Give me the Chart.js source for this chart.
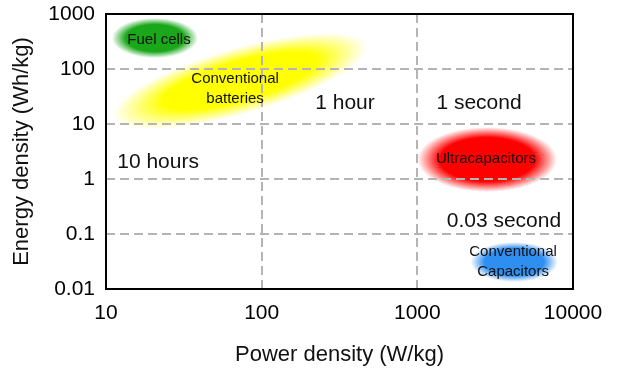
<!DOCTYPE html>
<html>
<head>
<meta charset="utf-8">
<script src="https://cdn.jsdelivr.net/npm/chart.js@4/dist/chart.umd.min.js"></script>
<style>
  html, body { margin: 0; padding: 0; background: #fff; }
  #wrap { width: 625px; height: 384px; }
</style>
</head>
<body>
<div id="wrap"><canvas id="ragone" width="625" height="384"></canvas></div>
<script>
// axis decades
const powerTicks = [10, 100, 1000, 10000];
const energyTicks = [0.01, 0.1, 1, 10, 100, 1000];

// technology regions (W/kg, Wh/kg); tilted ones run corner to corner along their long axis
const regionNames = [['Fuel cells'], ['Conventional', 'batteries'], ['Ultracapacitors'], ['Conventional', 'Capacitors']];
const regionPowerLo = [10.9, 11.1, 1000, 2200];
const regionPowerHi = [39, 475, 7900, 8000];
const regionEnergyLo = [158, 13.4, 0.58, 0.0134];
const regionEnergyHi = [846, 273, 8.8, 0.0716];
const regionTilted = [false, true, false, false];
const regionLabelPower = [21.9, 67.5, 2760, 4120];
const regionLabelEnergy = [337, 43.3, 2.31, 0.031];
const regionColors = ['#1aa81a', '#ffff00', '#ff0000', '#2f8ff0'];

// discharge-time annotations
const timeLabels = ['10 hours', '1 hour', '1 second', '0.03 second'];
const timePower = [21.6, 343, 2490, 3600];
const timeEnergy = [2.04, 24.1, 24.1, 0.172];

const FONT = '"Liberation Sans", Arial, sans-serif';

function fadeColor(hex, a) {
  const n = parseInt(hex.slice(1), 16);
  return `rgba(${n >> 16},${(n >> 8) & 255},${n & 255},${a})`;
}

const regionsPlugin = {
  id: 'regions',
  beforeDraw(chart) {
    const { ctx, chartArea: ca, scales: { x, y } } = chart;
    ctx.save();
    ctx.beginPath();
    ctx.rect(ca.left, ca.top, ca.right - ca.left, ca.bottom - ca.top);
    ctx.clip();
    regionNames.forEach((_, i) => {
      const x0 = x.getPixelForValue(regionPowerLo[i]), x1 = x.getPixelForValue(regionPowerHi[i]);
      const y0 = y.getPixelForValue(regionEnergyLo[i]), y1 = y.getPixelForValue(regionEnergyHi[i]);
      let cx = (x0 + x1) / 2, cy = (y0 + y1) / 2, rx, ry, ang = 0;
      if (regionTilted[i]) {
        rx = Math.hypot(x1 - x0, y1 - y0) / 2;
        ry = rx * 0.25;
        ang = Math.atan2(y1 - y0, x1 - x0);
      } else {
        rx = Math.abs(x1 - x0) / 2;
        ry = Math.abs(y1 - y0) / 2;
      }
      ctx.save();
      ctx.translate(cx, cy);
      ctx.rotate(ang);
      ctx.scale(rx, ry);
      const g = ctx.createRadialGradient(0, 0, 0, 0, 0, 1);
      g.addColorStop(0, regionColors[i]);
      g.addColorStop(regionTilted[i] ? 0.6 : 0.68, regionColors[i]);
      g.addColorStop(1, fadeColor(regionColors[i], 0));
      ctx.fillStyle = g;
      ctx.beginPath();
      ctx.arc(0, 0, 1, 0, Math.PI * 2);
      ctx.fill();
      ctx.restore();
    });
    ctx.restore();
  },
  beforeDatasetsDraw(chart) {
    // dashed decade grid, taken from the scales' own ticks
    const { ctx, chartArea: ca, scales: { x, y } } = chart;
    ctx.save();
    ctx.strokeStyle = '#b4b4b4';
    ctx.lineWidth = 2;
    ctx.setLineDash([9, 5]);
    x.ticks.forEach((t) => {
      const px = Math.round(x.getPixelForValue(t.value));
      if (px <= ca.left + 1 || px >= ca.right - 1) return;
      ctx.beginPath(); ctx.moveTo(px, ca.bottom); ctx.lineTo(px, ca.top); ctx.stroke();
    });
    y.ticks.forEach((t) => {
      const py = Math.round(y.getPixelForValue(t.value));
      if (py <= ca.top + 1 || py >= ca.bottom - 1) return;
      ctx.beginPath(); ctx.moveTo(ca.left, py); ctx.lineTo(ca.right, py); ctx.stroke();
    });
    ctx.restore();
  },
  afterDatasetsDraw(chart) {
    const { ctx, chartArea: ca, scales: { x, y } } = chart;
    ctx.save();
    ctx.textAlign = 'center';
    ctx.textBaseline = 'middle';
    ctx.fillStyle = '#111';
    ctx.font = `15px ${FONT}`;
    regionNames.forEach((lines, i) => {
      const px = x.getPixelForValue(regionLabelPower[i]);
      const py = y.getPixelForValue(regionLabelEnergy[i]);
      lines.forEach((t, k) => ctx.fillText(t, px, py + (k - (lines.length - 1) / 2) * 20));
    });
    ctx.font = `21px ${FONT}`;
    timeLabels.forEach((t, i) => ctx.fillText(t, x.getPixelForValue(timePower[i]), y.getPixelForValue(timeEnergy[i])));
    // plot frame
    ctx.strokeStyle = '#000';
    ctx.lineWidth = 2;
    ctx.strokeRect(ca.left, ca.top, ca.right - ca.left, ca.bottom - ca.top);
    ctx.restore();
  }
};

const hiddenGrid = (len) => ({ display: true, drawOnChartArea: false, drawTicks: true, tickLength: len, color: 'rgba(0,0,0,0)', tickColor: 'rgba(0,0,0,0)' });

new Chart(document.getElementById('ragone'), {
  type: 'scatter',
  data: {
    datasets: [{
      label: 'regions',
      data: regionLabelPower.map((p, i) => ({ x: p, y: regionLabelEnergy[i] })),
      pointRadius: 0,
      pointHoverRadius: 0
    }]
  },
  options: {
    responsive: false,
    animation: false,
    layout: { padding: { left: 0, top: 14, right: 52, bottom: 0 } },
    plugins: { legend: { display: false }, tooltip: { enabled: false } },
    scales: {
      x: {
        type: 'logarithmic',
        min: 10, max: 10000,
        afterBuildTicks: (s) => { s.ticks = powerTicks.map((v) => ({ value: v })); },
        afterFit: (s) => { s.height = 95; },
        grid: hiddenGrid(12),
        border: { display: false },
        ticks: { padding: 0, color: '#000', font: { family: FONT, size: 21 }, maxRotation: 0, callback: (v) => String(v) },
        title: { display: true, text: 'Power density (W/kg)', color: '#111', font: { family: FONT, size: 22 }, padding: { top: 0, bottom: 16 } }
      },
      y: {
        type: 'logarithmic',
        min: 0.01, max: 1000,
        afterBuildTicks: (s) => { s.ticks = energyTicks.map((v) => ({ value: v })); },
        afterFit: (s) => { s.width = 106; },
        grid: hiddenGrid(11),
        border: { display: false },
        ticks: { padding: 0, color: '#000', font: { family: FONT, size: 21 }, callback: (v) => String(v) },
        title: { display: true, text: 'Energy density (Wh/kg)', color: '#111', font: { family: FONT, size: 22 }, padding: { top: 9, bottom: 0 } }
      }
    }
  },
  plugins: [regionsPlugin]
});
</script>
</body>
</html>
